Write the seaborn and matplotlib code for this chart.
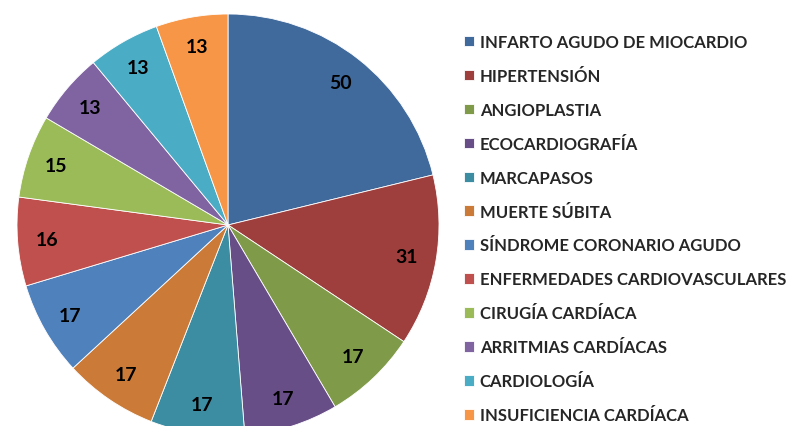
import matplotlib
matplotlib.use("Agg")
import matplotlib.pyplot as plt
import seaborn as sns

sns.set_theme(style="white")
plt.rcParams["font.family"] = ["Lato", "DejaVu Sans"]

categories = [
    "INFARTO AGUDO DE MIOCARDIO",
    "HIPERTENSIÓN",
    "ANGIOPLASTIA",
    "ECOCARDIOGRAFÍA",
    "MARCAPASOS",
    "MUERTE SÚBITA",
    "SÍNDROME CORONARIO AGUDO",
    "ENFERMEDADES CARDIOVASCULARES",
    "CIRUGÍA CARDÍACA",
    "ARRITMIAS CARDÍACAS",
    "CARDIOLOGÍA",
    "INSUFICIENCIA CARDÍACA",
]
values = [50, 31, 17, 17, 17, 17, 17, 16, 15, 13, 13, 13]
colors = [
    "#40699C", "#9E3F3E", "#7F9A48", "#684E86", "#3C8CA2", "#CB7B37",
    "#4F81BD", "#C0504D", "#9BBB59", "#8064A2", "#4BACC6", "#F79646",
]

fig = plt.figure(figsize=(7.99, 4.27), dpi=100)
ax = fig.add_axes([17 / 799, -10 / 427, 422 / 799, 422 / 427])

total = sum(values)
wedges, _, autotexts = ax.pie(
    values, colors=colors, startangle=90, counterclock=False,
    autopct=lambda p: f"{round(p * total / 100):d}", pctdistance=0.86,
    wedgeprops=dict(edgecolor="white", linewidth=0.6),
    textprops=dict(fontsize=14, fontweight="bold", color="black"),
)
ax.set_xlim(-1, 1)
ax.set_ylim(-1, 1)
ax.set_aspect("equal")
ax.axis("off")

fig.legend(
    wedges, categories, loc="upper left", bbox_to_anchor=(464 / 799, 1 - 35 / 427),
    frameon=False, handlelength=0.6, handleheight=0.6,
    handletextpad=0.35, labelspacing=1.075, borderaxespad=0, borderpad=0,
    prop=dict(family=["Lato", "DejaVu Sans"], weight="bold", size=12),
)

fig.savefig("out.png", dpi=100)
